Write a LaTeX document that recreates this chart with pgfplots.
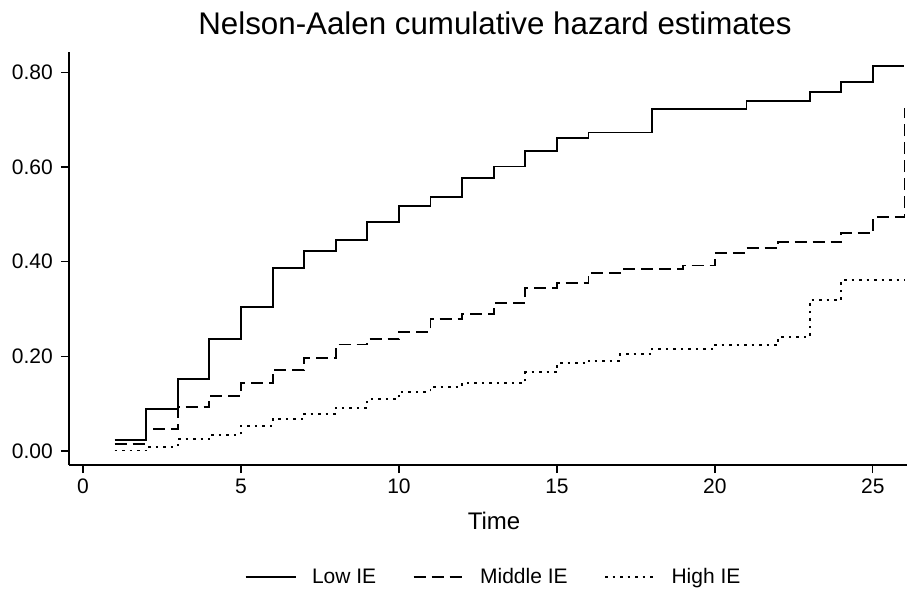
\documentclass[border=0pt]{standalone}
\usepackage{pgfplots}
\pgfplotsset{compat=1.18}
\usepackage{fontspec}
\setmainfont{Liberation Sans}
\begin{document}
\begin{tikzpicture}[x=1pt,y=1pt]
\path[use as bounding box] (0,0) rectangle (907,592);
\begin{axis}[
  at={(69pt,127pt)}, anchor=south west,
  width=838pt, height=413pt, scale only axis,
  xmin=-0.443, xmax=26.08, ymin=-0.0296, ymax=0.843,
  axis lines*=left,
  axis line style={line width=1.2pt},
  tick align=outside,
  major tick length=8pt,
  tick style={line width=1.2pt, black},
  xtick={0,5,10,15,20,25},
  ytick={0,0.2,0.4,0.6,0.8},
  /pgf/number format/assume math mode=true,
  yticklabel style={/pgf/number format/fixed, /pgf/number format/fixed zerofill, /pgf/number format/precision=2},
  tick label style={font=\fontsize{21}{21}\selectfont, inner sep=0pt},
  xticklabel style={font=\fontsize{21}{21}\selectfont, inner sep=0pt, anchor=north, yshift=-6pt},
  yticklabel style={font=\fontsize{21}{21}\selectfont, inner sep=0pt, anchor=east, xshift=-8pt},
  clip=false,
  legend style={at={(0.5054,-0.2705)}, anchor=center, draw=none, fill=none,
    font=\fontsize{21}{21}\selectfont,
    nodes={inner sep=0pt},
    /tikz/every odd column/.append style={column sep=15.5pt},
    /tikz/every even column/.append style={column sep=36.5pt}},
  legend columns=3,
  legend image code/.code={\draw[#1] (0pt,0pt) -- (50pt,0pt);},
]
\addplot[const plot mark left, line width=1.9pt, black] coordinates {
(1,0.023)(2,0.088)(3,0.152)(4,0.237)(5,0.305)(6,0.386)(7,0.422)(8,0.445)(9,0.484)(10,0.518)(11,0.537)(12,0.577)(13,0.601)(14,0.634)(15,0.662)(16,0.673)(18,0.722)(21,0.739)(23,0.758)(24,0.779)(25,0.814)(26,0.814)};
\addlegendentry{Low IE}
\addplot[const plot mark left, line width=1.9pt, black, dash pattern=on 12pt off 6pt] coordinates {
(1,0.014)(2,0.046)(3,0.092)(4,0.116)(5,0.144)(6,0.171)(7,0.196)(8,0.225)(9,0.236)(10,0.251)(11,0.278)(12,0.289)(13,0.313)(14,0.344)(15,0.354)(16,0.377)(17,0.384)(19,0.392)(20,0.419)(21,0.428)(22,0.441)(24,0.460)(25,0.495)(26,0.724)};
\addlegendentry{Middle IE}
\addplot[const plot mark left, line width=1.9pt, black, dash pattern=on 2.5pt off 5pt] coordinates {
(1,0.001)(2,0.009)(3,0.025)(4,0.034)(5,0.053)(6,0.067)(7,0.078)(8,0.091)(9,0.109)(10,0.125)(11,0.136)(12,0.144)(14,0.166)(15,0.185)(16,0.191)(17,0.204)(18,0.215)(20,0.224)(22,0.240)(23,0.319)(24,0.361)(26,0.361)};
\addlegendentry{High IE}
\end{axis}
\node[anchor=base, inner sep=0pt, font=\fontsize{31.3}{31.3}\selectfont] at (495,557) {Nelson-Aalen cumulative hazard estimates};
\node[anchor=base, inner sep=0pt, font=\fontsize{24}{24}\selectfont] at (494,62.7) {Time};
\end{tikzpicture}
\end{document}
